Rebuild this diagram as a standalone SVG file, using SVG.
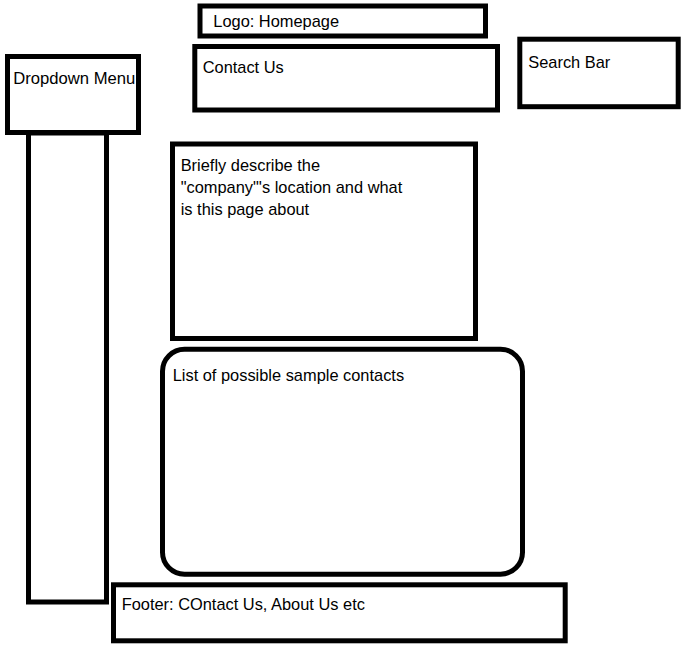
<svg xmlns="http://www.w3.org/2000/svg" width="698" height="653" viewBox="0 0 698 653">
<style>
.box{fill:none;stroke:#000;stroke-width:5}
.t{font-family:"Liberation Sans",Arial,sans-serif;font-size:16.4px;fill:#000}
</style>
<rect width="698" height="653" fill="#fff"/>
<g id="connectors"></g>
<g id="dropdown-menu">
<rect class="box" x="7.5" y="56.5" width="131" height="76"/>
<text class="t" x="13.3" y="84" textLength="122" lengthAdjust="spacingAndGlyphs">Dropdown Menu</text>
</g>
<g id="sidebar">
<rect class="box" x="28.5" y="133" width="78" height="469"/>
</g>
<g id="logo">
<rect class="box" x="200" y="6" width="285.5" height="30"/>
<text class="t" x="213.3" y="26.7">Logo: Homepage</text>
</g>
<g id="contact-us">
<rect class="box" x="194.8" y="46.5" width="302.7" height="63.5"/>
<text class="t" x="202.7" y="72.7">Contact Us</text>
</g>
<g id="search-bar">
<rect class="box" x="519.8" y="39.2" width="158.4" height="67.5"/>
<text class="t" x="528.3" y="68.3">Search Bar</text>
</g>
<g id="description">
<rect class="box" x="172.5" y="144" width="303" height="194.5"/>
<text class="t" x="180.7" y="170.7">Briefly describe the</text>
<text class="t" x="180.7" y="193">"company"'s location and what</text>
<text class="t" x="180.7" y="215">is this page about</text>
</g>
<g id="contacts-list">
<rect class="box" x="162.5" y="349.2" width="360" height="225" rx="22" ry="22"/>
<text class="t" x="172.7" y="380.7">List of possible sample contacts</text>
</g>
<g id="footer">
<rect class="box" x="113.5" y="584.8" width="451.7" height="56"/>
<text class="t" x="121.7" y="610">Footer: COntact Us, About Us etc</text>
</g>
</svg>
